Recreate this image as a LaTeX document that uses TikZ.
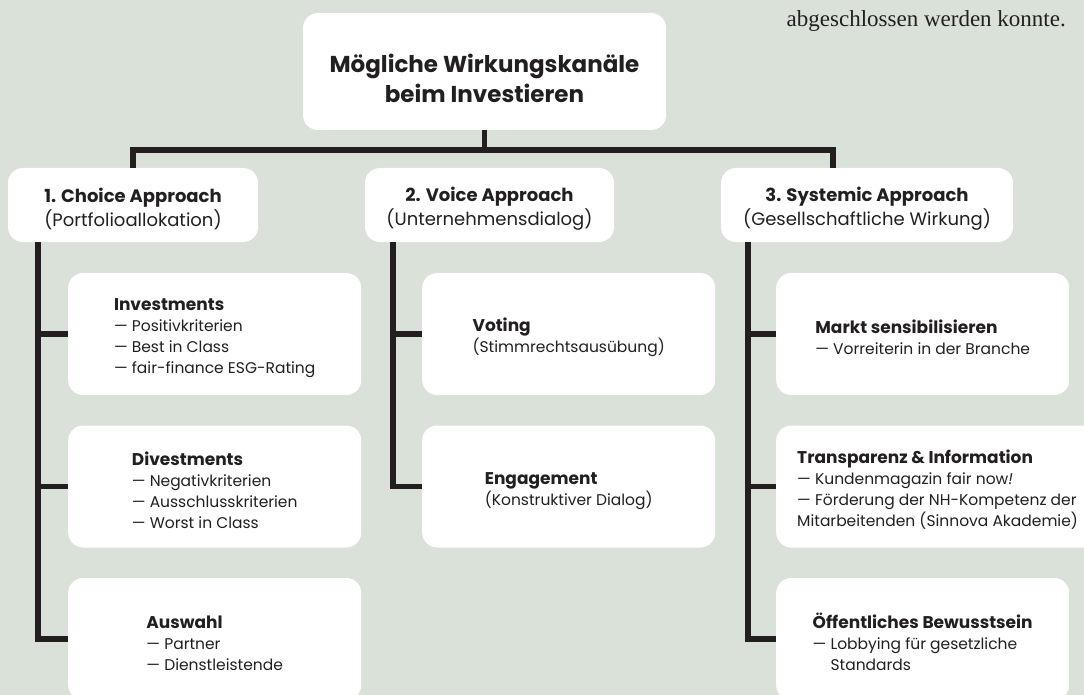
\documentclass[tikz,border=0pt]{standalone}
\usepackage{fontspec}
\setmainfont{Poppins}
\newfontfamily\notefont{Liberation Serif}
\usepackage{xcolor}
\usepackage{tikz}
\usetikzlibrary{positioning,calc}

\definecolor{sage}{HTML}{DAE1D9}
\definecolor{ink}{HTML}{231F20}

% headings inside the boxes (the rule pushes the text block down a bit)
\newcommand\ahead[1]{\rule{0pt}{21.5pt}\textbf{#1}}
\newcommand\chead[1]{\rule{0pt}{20.5pt}{\fontsize{17}{21}\selectfont\bfseries #1}}

\begin{document}
\begin{tikzpicture}[
  x=1pt, y=-1pt,
  box/.style={rectangle, rounded corners=15pt, fill=white, text=ink, align=center, inner sep=0pt},
  head/.style={box, minimum width=363pt, minimum height=117pt, font=\fontsize{23}{30}\selectfont\bfseries},
  approach/.style={box, minimum height=74pt, font=\fontsize{18}{24}\selectfont},
  subbox/.style={box, align=left, anchor=west, minimum width=293pt, minimum height=122pt, inner xsep=21pt, font=\fontsize{15.5}{21}\selectfont},
  conn/.style={draw=ink, line width=5.5pt}
]

% Background
\fill[sage] (0,0) rectangle (1084,695);
\useasboundingbox (0,0) rectangle (1084,695);
\clip (0,0) rectangle (1084,695);

% Note at top right
\node[anchor=base east, inner sep=0pt, text=ink, font=\notefont\fontsize{23}{28}\selectfont] (note) at (1066,27) {abgeschlossen werden konnte.};

% Top: title
\node[head] (top) at (484.5,71.5) {\rule{0pt}{33pt}Mögliche Wirkungskanäle\\beim Investieren};

% Middle: the three approaches
\node[approach, minimum width=250pt] (choice) at (133,205) {\ahead{1. Choice Approach}\\(Portfolioallokation)};
\node[approach, minimum width=249pt] (voice) at (489.5,205) {\ahead{2. Voice Approach}\\(Unternehmensdialog)};
\node[approach, minimum width=292pt] (systemic) at (867,205) {\ahead{3. Systemic Approach}\\(Gesellschaftliche Wirkung)};

% Choice channels
\node[subbox] (invest) at (68,334) {\chead{Investments}\\— Positivkriterien\\— Best in Class\\— fair-finance ESG-Rating};
\node[subbox] (divest) at (68,486.5) {\chead{Divestments}\\— Negativkriterien\\— Ausschlusskriterien\\— Worst in Class};
\node[subbox] (auswahl) at (68,639) {\chead{Auswahl}\\— Partner\\— Dienstleistende};

% Voice channels
\node[subbox] (voting) at (422,334) {\chead{Voting}\\(Stimmrechtsausübung)};
\node[subbox] (engage) at (422,486.5) {\chead{Engagement}\\(Konstruktiver Dialog)};

% Systemic channels
\node[subbox] (markt) at (776,334) {\chead{Markt sensibilisieren}\\— Vorreiterin in der Branche};
\node[subbox] (transp) at (776,486.5) {\chead{Transparenz \& Information}\\— Kundenmagazin fair now\textit{!}\\— Förderung der NH-Kompetenz der\\Mitarbeitenden (Sinnova Akademie)};
\node[subbox] (oeff) at (776,639) {\chead{Öffentliches Bewusstsein}\\— Lobbying für gesetzliche\\\phantom{— }Standards};

% Tree lines
\coordinate (bar_r) at (833,150);
\coordinate (trunk1) at (38,0);
\coordinate (trunk2) at (393,0);
\coordinate (trunk3) at (748,0);

\draw[conn] (top) -- (top |- bar_r);
\draw[conn] (choice) |- (bar_r) -- (bar_r |- systemic.north);

\draw[conn] (choice.south -| trunk1) |- (auswahl.west);
\draw[conn] (trunk1 |- invest.west) -- (invest.west);
\draw[conn] (trunk1 |- divest.west) -- (divest.west);

\draw[conn] (voice.south -| trunk2) |- (engage.west);
\draw[conn] (trunk2 |- voting.west) -- (voting.west);

\draw[conn] (systemic.south -| trunk3) |- (oeff.west);
\draw[conn] (trunk3 |- markt.west) -- (markt.west);
\draw[conn] (trunk3 |- transp.west) -- (transp.west);

\end{tikzpicture}
\end{document}
